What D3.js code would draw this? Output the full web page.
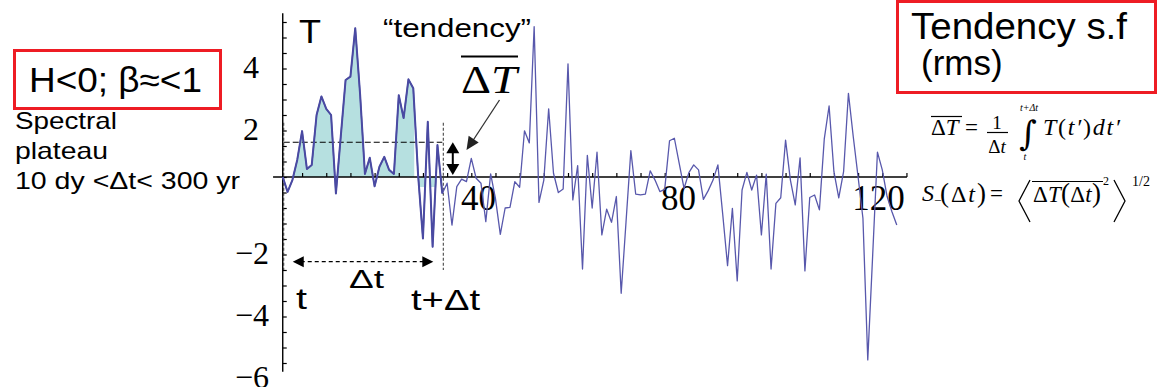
<!DOCTYPE html>
<html>
<head>
<meta charset="utf-8">
<script src="https://cdn.jsdelivr.net/npm/d3@7"></script>
<style>
  html, body { margin: 0; padding: 0; background: #fff; }
  svg { display: block; }
  .sans { font-family: "Liberation Sans", Arial, sans-serif; }
  .serif { font-family: "Liberation Serif", "Times New Roman", serif; }
</style>
</head>
<body>
<svg id="chart" width="1158" height="387"></svg>
<script>
// Temperature fluctuation series T(t), one value per time step (t = 1..128)
const timeSteps = d3.range(1, 129);
const tValues = [
  0, -0.48, -0.1, 0.55, 1.48, 0.26, 0.39, 2.0, 2.6, 2.2,
  2.0, -0.53, 1.3, 3.13, 3.24, 4.8, 2.67, 0.1, 0.62, -0.3,
  0.33, 0.65, 0.23, 0.1, 2.64, 1.9, 3.15, 2.86, 0.06, -1.98,
  1.78, -2.25, 1.03, -0.53, -0.2, -1.55, -0.31, -0.07, -0.15, 0.6,
  -0.04, -0.2, -1.44, 0.1, -0.7, -1.85, -1.0, -0.98, -0.15, -0.33,
  1.49, 1.1, 4.85, -0.82, -0.1, 2.2, 0.12, -0.5, -0.39, 3.65,
  -0.74, 0.37, -2.97, 0.7, -1.0, 0.8, -1.87, -1.04, -1.46, -0.63,
  -3.75, -1.45, 0.85, -0.55, -0.58, -0.55, 0.2, -0.1, -0.47, -0.4,
  1.17, 1.25, 0.44, -0.37, 0.14, 0.39, 0.23, -0.72, -0.44, -0.1,
  0.39, -1.2, -2.86, -1.01, -3.35, -0.42, 0.15, -0.42, 0.06, -1.87,
  0.09, -2.97, -0.85, -0.67, 1.19, -0.1, -0.9, 0.62, -3.03, -0.66,
  -0.58, -1.06, 1.22, 2.29, 0.17, -0.67, 0.17, 2.7, 1.3, 0,
  -1.33, -5.9, -2.57, 0.8, 0.23, -0.63, -1.12, -1.55
];

// Tick marks and labels
const xTickMarks = d3.range(5, 131, 5);
const xTickLabels = [40, 80, 120];
const yTickMarks = d3.range(-6, 5.01, 0.5);
const yTickLabels = [4, 2, -2, -4, -6];

// Averaging window [t, t + Δt]
const windowStart = 1;
const windowEnd = 34;
const shadeEnd = 28.2;   // end of the shaded positive part

const series = timeSteps.map((t, i) => ({ t, v: tValues[i] }));
const windowPts = series.filter(d => d.t >= windowStart && d.t <= windowEnd);
const windowMean = d3.mean(windowPts, d => d.v);

const svg = d3.select("#chart");

// Scales
const x = d3.scaleLinear().domain([0, 130]).range([277.9, 277.9 + 130 * 4.835]);
const xLabelPos = d3.scaleLinear().domain([0, 120]).range([278, 878]);
const y = d3.scaleLinear().domain([-6.3, 5.3]).range([372.3, 12.7]);

const lineColor = "#5858ac";
const fillColor = "#b6e0e0";

// Clip for the shaded window
const defs = svg.append("defs");
const clip = defs.append("clipPath").attr("id", "winClip");
clip.append("rect")
  .attr("x", x(windowStart)).attr("y", 0)
  .attr("width", x(shadeEnd) - x(windowStart)).attr("height", y(0));
clip.append("rect")
  .attr("x", x(shadeEnd)).attr("y", y(0))
  .attr("width", x(windowEnd) - x(shadeEnd)).attr("height", 10);

const area = d3.area().x(d => x(d.t)).y0(y(0)).y1(d => y(d.v));
svg.append("path")
  .datum(windowPts)
  .attr("d", area)
  .attr("fill", fillColor)
  .attr("clip-path", "url(#winClip)");

// Axes
const axisG = svg.append("g").attr("stroke", "#000");
axisG.append("line")
  .attr("x1", x(-1)).attr("x2", x(130.1))
  .attr("y1", y(0)).attr("y2", y(0))
  .attr("stroke-width", 1.4);
axisG.append("line")
  .attr("x1", x(1)).attr("x2", x(1))
  .attr("y1", y(5.28)).attr("y2", y(-6.28))
  .attr("stroke-width", 1.4);

// x ticks (pointing up into the plot)
svg.append("g").attr("transform", `translate(0,${y(0)})`)
  .call(d3.axisTop(x).tickValues(xTickMarks).tickSize(4).tickFormat(""))
  .call(g => g.select(".domain").remove())
  .call(g => g.selectAll("line").attr("stroke", "#000").attr("stroke-width", 1.2));

// x tick labels
svg.append("g").attr("transform", `translate(0,${y(0)})`)
  .call(d3.axisBottom(xLabelPos).tickValues(xTickLabels).tickSize(0).tickPadding(0))
  .call(g => g.select(".domain").remove())
  .call(g => g.selectAll("text")
    .attr("class", "serif")
    .attr("font-size", 35)
    .attr("fill", "#000")
    .attr("dy", "0.94em"));

// y ticks (pointing right into the plot)
svg.append("g").attr("transform", `translate(${x(1)},0)`)
  .call(d3.axisRight(y).tickValues(yTickMarks).tickSize(4).tickFormat(""))
  .call(g => g.select(".domain").remove())
  .call(g => g.selectAll("line").attr("stroke", "#000").attr("stroke-width", 1.2));

// y tick labels
svg.append("g").attr("transform", `translate(259,0)`)
  .call(d3.axisLeft(y).tickValues(yTickLabels).tickSize(0).tickPadding(0)
    .tickFormat(d => d < 0 ? "\u2212" + Math.abs(d) : String(d)))
  .call(g => g.select(".domain").remove())
  .call(g => g.selectAll("text")
    .attr("class", "serif")
    .attr("font-size", 32)
    .attr("fill", "#000")
    .attr("x", d => d < 0 ? 10 : 0)
    .attr("dy", "0.78em"));

// Window markers: mean level and the t, t+Δt verticals
svg.append("line")
  .attr("x1", x(windowStart) + 1).attr("x2", x(windowEnd))
  .attr("y1", y(windowMean) - 2).attr("y2", y(windowMean) - 2)
  .attr("stroke", "#000").attr("stroke-width", 1.2)
  .attr("stroke-dasharray", "6,3");
[windowStart, windowEnd].forEach(t => {
  svg.append("line")
    .attr("x1", x(t) + 1).attr("x2", x(t) + 1)
    .attr("y1", y(1.75)).attr("y2", y(-3.0))
    .attr("stroke", "#333").attr("stroke-width", 1)
    .attr("stroke-dasharray", "3,2");
});

// Series line
const line = d3.line().x(d => x(d.t)).y(d => y(d.v));
svg.append("path")
  .datum(series)
  .attr("d", line)
  .attr("fill", "none")
  .attr("stroke", lineColor)
  .attr("stroke-width", 1.3)
  .attr("stroke-linejoin", "round");
svg.append("path")
  .datum(windowPts)
  .attr("d", line)
  .attr("fill", "none")
  .attr("stroke", "#4a4aa2")
  .attr("stroke-width", 2)
  .attr("stroke-linejoin", "round");

// Arrowhead helper
function arrowHead(tipX, tipY, angle, len, half) {
  const ca = Math.cos(angle), sa = Math.sin(angle);
  const bx = tipX - len * ca, by = tipY - len * sa;
  return `M${tipX},${tipY}L${bx - half * sa},${by + half * ca}L${bx + half * sa},${by - half * ca}Z`;
}

// Horizontal Δt double arrow
const arrowY = y(-2.73);
const ax1 = x(windowStart) + 10, ax2 = x(windowEnd) - 9;
svg.append("line")
  .attr("x1", ax1 + 8).attr("x2", ax2 - 8)
  .attr("y1", arrowY).attr("y2", arrowY)
  .attr("stroke", "#000").attr("stroke-width", 1.2)
  .attr("stroke-dasharray", "4,3");
svg.append("path").attr("d", arrowHead(ax1, arrowY, Math.PI, 11, 5.5)).attr("fill", "#000");
svg.append("path").attr("d", arrowHead(ax2, arrowY, 0, 11, 5.5)).attr("fill", "#000");

// Vertical double arrow showing the mean level
const vx = x(windowEnd) + 10.5;
svg.append("line")
  .attr("x1", vx).attr("x2", vx)
  .attr("y1", y(windowMean) + 6).attr("y2", y(0) - 6)
  .attr("stroke", "#000").attr("stroke-width", 2);
svg.append("path").attr("d", arrowHead(vx, y(windowMean) - 2, -Math.PI / 2, 11, 6.5)).attr("fill", "#000");
svg.append("path").attr("d", arrowHead(vx, y(0) - 2, Math.PI / 2, 11, 6.5)).attr("fill", "#000");

// Pointer arrow from the ΔT label
svg.append("line")
  .attr("x1", 499.5).attr("y1", 100).attr("x2", 472).attr("y2", 142)
  .attr("stroke", "#333").attr("stroke-width", 1.3);
svg.append("path")
  .attr("d", arrowHead(466.5, 150, Math.atan2(150 - 100, 466.5 - 499.5), 13, 6))
  .attr("fill", "#222");

// Plot annotations
svg.append("text").attr("class", "sans").attr("x", 299).attr("y", 43)
  .attr("font-size", 33).attr("textLength", 22).attr("lengthAdjust", "spacingAndGlyphs")
  .text("T");
svg.append("text").attr("class", "sans").attr("x", 383).attr("y", 36.5)
  .attr("font-size", 26).attr("textLength", 148).attr("lengthAdjust", "spacingAndGlyphs")
  .text("\u201Ctendency\u201D");
const dT = svg.append("text").attr("class", "serif").attr("x", 461).attr("y", 93)
  .attr("font-size", 40).attr("textLength", 56).attr("lengthAdjust", "spacingAndGlyphs");
dT.append("tspan").text("\u0394");
dT.append("tspan").attr("font-style", "italic").text("T");
svg.append("line").attr("x1", 461).attr("x2", 518).attr("y1", 56.5).attr("y2", 56.5)
  .attr("stroke", "#000").attr("stroke-width", 2);

svg.append("text").attr("class", "sans").attr("x", 349).attr("y", 288)
  .attr("font-size", 26).attr("textLength", 35).attr("lengthAdjust", "spacingAndGlyphs")
  .text("\u0394t");
svg.append("text").attr("class", "sans").attr("x", 296).attr("y", 308.5)
  .attr("font-size", 30).attr("textLength", 11).attr("lengthAdjust", "spacingAndGlyphs")
  .text("t");
svg.append("text").attr("class", "sans").attr("x", 411).attr("y", 310)
  .attr("font-size", 30).attr("textLength", 69).attr("lengthAdjust", "spacingAndGlyphs")
  .text("t+\u0394t");

// Left annotation box
svg.append("rect").attr("x", 14.5).attr("y", 50.5).attr("width", 206).attr("height", 58)
  .attr("fill", "none").attr("stroke", "#ee1c24").attr("stroke-width", 3);
svg.append("text").attr("class", "sans").attr("x", 29).attr("y", 91.5)
  .attr("font-size", 35).attr("textLength", 173).attr("lengthAdjust", "spacingAndGlyphs")
  .text("H<0; \u03B2\u2248<1");
const plateau = ["Spectral", "plateau", "10 dy <\u0394t< 300 yr"];
const plateauWidths = [102, 93, 225];
svg.append("g").selectAll("text").data(plateau).join("text")
  .attr("class", "sans").attr("x", 15)
  .attr("y", (d, i) => 128.5 + i * 30)
  .attr("font-size", 24)
  .attr("textLength", (d, i) => plateauWidths[i])
  .attr("lengthAdjust", "spacingAndGlyphs")
  .text(d => d);

// Right annotation box
svg.append("rect").attr("x", 897.5).attr("y", 1.5).attr("width", 258).attr("height", 91)
  .attr("fill", "none").attr("stroke", "#ee1c24").attr("stroke-width", 3);
svg.append("text").attr("class", "sans").attr("x", 911).attr("y", 38.5)
  .attr("font-size", 37).attr("textLength", 216).attr("lengthAdjust", "spacingAndGlyphs")
  .text("Tendency s.f");
svg.append("text").attr("class", "sans").attr("x", 921).attr("y", 75)
  .attr("font-size", 35).text("(rms)");

// Formula 1: mean tendency over the window
const f1 = svg.append("g").attr("class", "serif").attr("fill", "#000");
const f1a = f1.append("text").attr("x", 931).attr("y", 135).attr("font-size", 23);
f1a.append("tspan").text("\u0394");
f1a.append("tspan").attr("font-style", "italic").text("T");
f1.append("line").attr("x1", 931).attr("x2", 962).attr("y1", 116.5).attr("y2", 116.5)
  .attr("stroke", "#000").attr("stroke-width", 1.2);
f1.append("text").attr("x", 965).attr("y", 135).attr("font-size", 23).text("=");
f1.append("text").attr("x", 997).attr("y", 129).attr("font-size", 19)
  .attr("text-anchor", "middle").text("1");
f1.append("line").attr("x1", 987).attr("x2", 1008).attr("y1", 132.5).attr("y2", 132.5)
  .attr("stroke", "#000").attr("stroke-width", 1.2);
const f1d = f1.append("text").attr("x", 997).attr("y", 153).attr("font-size", 19)
  .attr("text-anchor", "middle");
f1d.append("tspan").text("\u0394");
f1d.append("tspan").attr("font-style", "italic").text("t");
f1.append("text").attr("x", 1028).attr("y", 145).attr("font-size", 34)
  .attr("text-anchor", "middle").attr("font-family", "DejaVu Serif").text("\u222B");
f1.append("text").attr("x", 1029).attr("y", 111).attr("font-size", 10)
  .attr("text-anchor", "middle").attr("font-style", "italic").text("t+\u0394t");
f1.append("text").attr("x", 1025).attr("y", 160).attr("font-size", 10)
  .attr("text-anchor", "middle").attr("font-style", "italic").text("t");
const f1b = f1.append("text").attr("x", 1043).attr("y", 135).attr("font-size", 24)
  .attr("textLength", 77).attr("lengthAdjust", "spacing");
f1b.append("tspan").attr("font-style", "italic").text("T");
f1b.append("tspan").text("(");
f1b.append("tspan").attr("font-style", "italic").text("t\u2032");
f1b.append("tspan").text(")");
f1b.append("tspan").attr("font-style", "italic").text("dt\u2032");

// Formula 2: tendency structure function
const f2 = svg.append("g").attr("class", "serif").attr("fill", "#000");
f2.append("text").attr("x", 922).attr("y", 201).attr("font-size", 24)
  .attr("font-style", "italic").text("S");
f2.append("text").attr("x", 934).attr("y", 205).attr("font-size", 13).text("\u2212");
const f2a = f2.append("text").attr("x", 940).attr("y", 202).attr("font-size", 24)
  .attr("textLength", 46).attr("lengthAdjust", "spacing");
f2a.append("tspan").attr("font-size", 27).text("(");
f2a.append("tspan").text("\u0394");
f2a.append("tspan").attr("font-style", "italic").text("t");
f2a.append("tspan").attr("font-size", 27).text(")");
f2.append("text").attr("x", 990).attr("y", 201).attr("font-size", 23).text("=");
f2.append("path").attr("d", "M1030,180L1019,201L1030,222")
  .attr("fill", "none").attr("stroke", "#000").attr("stroke-width", 1.3);
const f2b = f2.append("text").attr("x", 1033).attr("y", 202).attr("font-size", 23)
  .attr("textLength", 68).attr("lengthAdjust", "spacing");
f2b.append("tspan").text("\u0394");
f2b.append("tspan").attr("font-style", "italic").text("T");
f2b.append("tspan").attr("font-size", 27).text("(");
f2b.append("tspan").text("\u0394");
f2b.append("tspan").attr("font-style", "italic").text("t");
f2b.append("tspan").attr("font-size", 27).text(")");
f2.append("line").attr("x1", 1032).attr("x2", 1103).attr("y1", 181.5).attr("y2", 181.5)
  .attr("stroke", "#000").attr("stroke-width", 1.2);
f2.append("text").attr("x", 1103).attr("y", 185).attr("font-size", 12).text("2");
f2.append("path").attr("d", "M1114,180L1125,201L1114,222")
  .attr("fill", "none").attr("stroke", "#000").attr("stroke-width", 1.3);
f2.append("text").attr("x", 1132).attr("y", 186).attr("font-size", 14).text("1/2");
</script>
</body>
</html>
